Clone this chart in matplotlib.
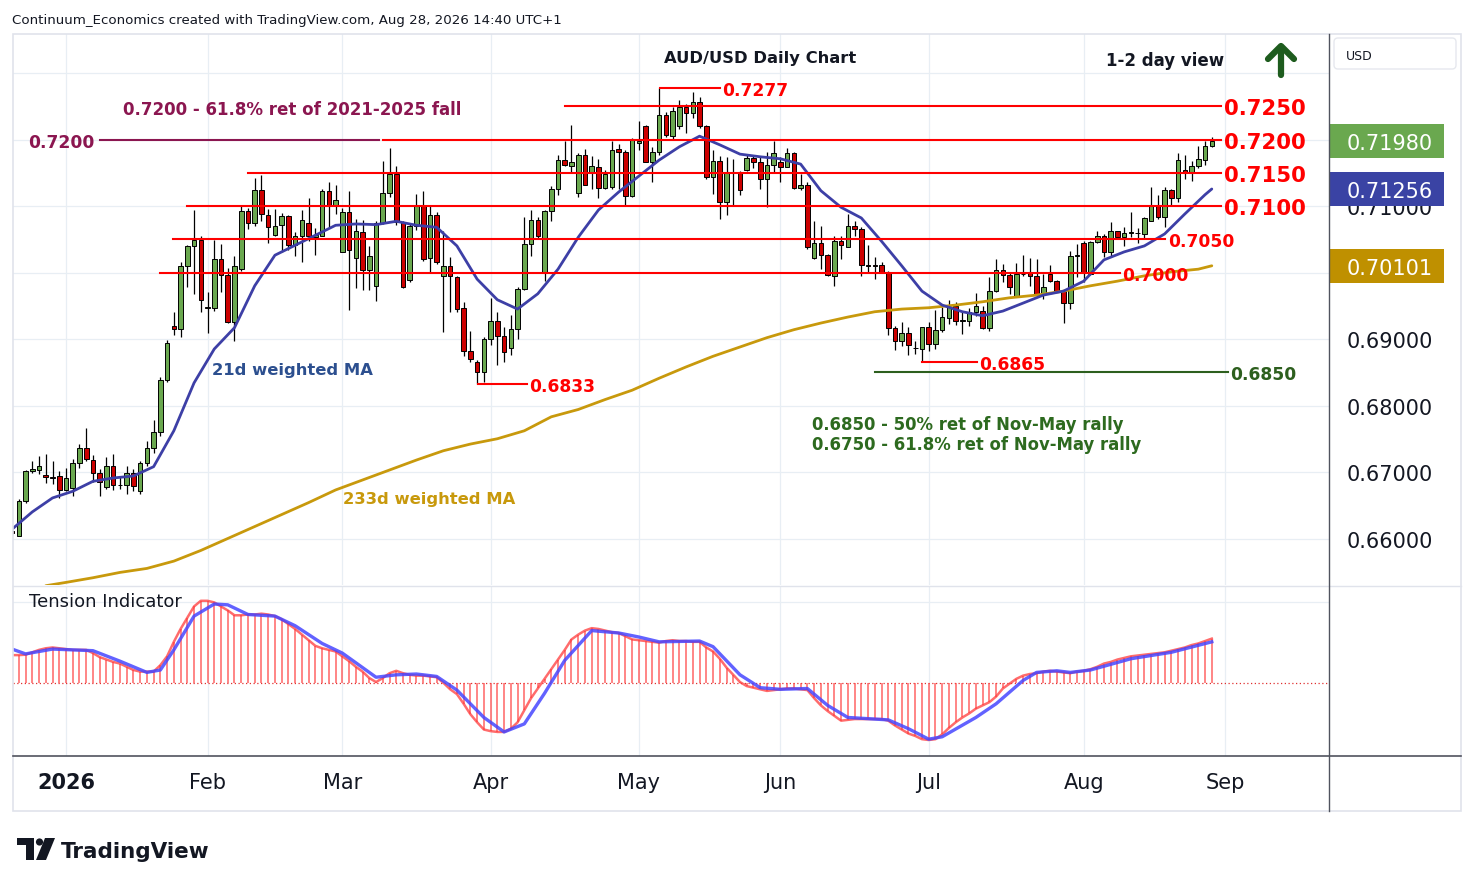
import numpy as np
import pandas as pd
import matplotlib
matplotlib.use("Agg")
import matplotlib.pyplot as plt
from matplotlib.patches import Rectangle, FancyBboxPatch, Polygon, Circle
from matplotlib.lines import Line2D
import matplotlib.transforms as mtransforms

W, H = 1474, 887

# ---------------- data ----------------
holidays = ["2025-12-25", "2026-01-01"]
all_days = pd.bdate_range("2025-12-19", "2026-09-30")
all_days = all_days[~all_days.isin(pd.to_datetime(holidays))]
N = 179
dates = all_days[:N]

opens = [.6612,.6604,.6656,.6701,.6703,.6696,.6692,.6694,.6673,.6676,
         .6714,.6736,.6718,.6698,.6677,.6709,.6680,.6680,.6698,.6671,
         .6714,.6736,.6760,.6838,.6920,.6915,.7010,.7040,.7049,.6946,
         .6947,.7020,.6996,.6926,.7005,.7092,.7074,.7124,.7086,.7056,
         .7071,.7085,.7041,.7055,.7074,.7054,.7055,.7123,.7101,.7031,
         .7091,.7022,.7061,.7004,.6980,.7074,.7120,.7148,.7076,.6989,
         .7070,.7101,.7022,.7086,.6995,.7010,.6993,.6947,.6882,.6865,
         .6850,.6900,.6927,.6905,.6886,.6915,.6975,.7043,.7079,.7000,
         .7092,.7126,.7169,.7160,.7120,.7177,.7150,.7159,.7127,.7129,
         .7186,.7181,.7115,.7195,.7220,.7166,.7181,.7237,.7205,.7220,
         .7249,.7240,.7256,.7220,.7144,.7168,.7106,.7150,.7150,.7154,
         .7172,.7166,.7140,.7162,.7166,.7159,.7180,.7127,.7132,.7022,
         .7044,.7026,.6995,.7047,.7038,.7070,.7065,.7011,.7011,.7011,
         .7000,.6917,.6897,.6909,.6886,.6885,.6918,.6892,.6914,.6932,
         .6950,.6927,.6927,.6941,.6942,.6917,.6972,.7004,.6996,.6965,
         .6997,.6999,.6995,.6968,.6998,.6987,.6972,.6954,.7025,.7044,
         .6998,.7046,.7055,.7031,.7062,.7053,.7060,.7060,.7058,.7077,
         .7101,.7083,.7124,.7112,.7154,.7151,.7160,.7169,.7190]
highs = [.6615,.6659,.6703,.6717,.6724,.6727,.6717,.6702,.6706,.6720,
         .6742,.6766,.6726,.6705,.6723,.6727,.6692,.6709,.6705,.6717,
         .6747,.6778,.6843,.6898,.6941,.7016,.7041,.7094,.7055,.6971,
         .7049,.7043,.7007,.7025,.7100,.7097,.7142,.7147,.7095,.7095,
         .7089,.7087,.7061,.7094,.7112,.7067,.7126,.7136,.7132,.7097,
         .7123,.7080,.7079,.7040,.7077,.7168,.7187,.7160,.7078,.7074,
         .7118,.7123,.7101,.7091,.7062,.7023,.6995,.6956,.6912,.6868,
         .6903,.6962,.6941,.6918,.6936,.6978,.7083,.7094,.7083,.7094,
         .7130,.7177,.7198,.7222,.7180,.7186,.7175,.7171,.7154,.7198,
         .7193,.7184,.7202,.7228,.7222,.7189,.7277,.7241,.7249,.7259,
         .7253,.7271,.7264,.7222,.7184,.7175,.7174,.7170,.7153,.7178,
         .7175,.7174,.7181,.7198,.7174,.7187,.7181,.7148,.7136,.7077,
         .7070,.7028,.7055,.7055,.7088,.7077,.7068,.7041,.7023,.7016,
         .7002,.6920,.6926,.6918,.6897,.6918,.6926,.6944,.6948,.6959,
         .6956,.6941,.6947,.6969,.6950,.6993,.7020,.7013,.7001,.7014,
         .7026,.7022,.7020,.6998,.7011,.6988,.6972,.7032,.7043,.7047,
         .7047,.7062,.7058,.7076,.7063,.7068,.7091,.7067,.7083,.7128,
         .7117,.7129,.7125,.7180,.7177,.7168,.7190,.7198,.7204]
lows = [.6606,.6604,.6654,.6698,.6697,.6683,.6682,.6661,.6671,.6664,
        .6706,.6717,.6685,.6664,.6674,.6673,.6674,.6667,.6671,.6667,
        .6709,.6729,.6754,.6835,.6906,.6903,.6978,.6968,.6941,.6909,
        .6942,.6971,.6924,.6897,.7002,.7065,.7070,.7077,.7044,.7055,
        .7031,.7034,.7025,.7016,.7047,.7026,.7055,.7068,.7088,.7031,
        .6944,.6977,.6974,.6974,.6957,.7073,.7114,.7071,.6976,.6986,
        .7064,.7017,.7001,.7013,.6911,.6941,.6941,.6874,.6865,.6833,
        .6835,.6891,.6861,.6865,.6876,.6900,.6974,.7025,.7050,.6987,
        .7077,.7117,.7160,.7151,.7114,.7131,.7126,.7112,.7126,.7126,
        .7126,.7100,.7114,.7184,.7166,.7136,.7177,.7204,.7201,.7216,
        .7210,.7232,.7217,.7141,.7118,.7080,.7086,.7102,.7117,.7153,
        .7157,.7126,.7098,.7151,.7136,.7159,.7126,.7124,.7036,.7020,
        .7005,.6995,.6980,.7020,.7038,.7055,.6995,.7000,.6990,.7000,
        .6906,.6883,.6890,.6876,.6877,.6865,.6882,.6885,.6911,.6923,
        .6921,.6907,.6920,.6935,.6915,.6912,.6971,.6986,.6968,.6965,
        .6995,.6980,.6966,.6960,.6986,.6970,.6924,.6945,.6993,.6986,
        .6996,.7044,.7023,.7023,.7052,.7040,.7053,.7044,.7052,.7077,
        .7080,.7068,.7101,.7106,.7140,.7138,.7157,.7162,.7188]
closes = [.6608,.6656,.6702,.6705,.6709,.6692,.6691,.6673,.6691,.6714,
          .6736,.6720,.6698,.6685,.6709,.6680,.6681,.6698,.6679,.6714,
          .6736,.6760,.6838,.6894,.6915,.7010,.7040,.7049,.6959,.6948,
          .7020,.6996,.6926,.7010,.7092,.7074,.7124,.7088,.7068,.7070,
          .7085,.7041,.7055,.7079,.7055,.7056,.7123,.7102,.7109,.7091,
          .7034,.7063,.7004,.7025,.7074,.7120,.7148,.7076,.6978,.7070,
          .7101,.7020,.7086,.7016,.7010,.6995,.6945,.6882,.6870,.6850,
          .6900,.6927,.6905,.6880,.6915,.6975,.7043,.7079,.7055,.7092,
          .7126,.7169,.7162,.7166,.7177,.7132,.7160,.7127,.7148,.7184,
          .7181,.7115,.7199,.7197,.7166,.7181,.7237,.7207,.7243,.7249,
          .7240,.7256,.7220,.7144,.7168,.7106,.7150,.7151,.7124,.7172,
          .7166,.7140,.7162,.7180,.7159,.7180,.7127,.7132,.7038,.7044,
          .7026,.6996,.7047,.7041,.7070,.7065,.7011,.7010,.7010,.7000,
          .6917,.6897,.6909,.6891,.6887,.6918,.6892,.6914,.6933,.6948,
          .6927,.6928,.6941,.6950,.6917,.6972,.7004,.6996,.6978,.6998,
          .6998,.6995,.6968,.6978,.6987,.6972,.6954,.7025,.7026,.6999,
          .7046,.7055,.7031,.7062,.7053,.7059,.7061,.7059,.7082,.7101,
          .7083,.7124,.7112,.7169,.7151,.7160,.7171,.7190,.7198]

# 21-day weighted MA (bar index, value)
ma21_idx = list(range(0, 178, 3)) + [178]
ma21_val = [.6614,.6640,.6661,.6671,.6686,.6691,.6694,.6708,.6762,.6834,
            .6885,.6917,.6980,.7026,.7041,.7056,.7071,.7073,.7072,.7077,
            .7071,.7068,.7040,.6990,.6959,.6945,.6968,.7005,.7053,.7094,
            .7121,.7145,.7169,.7189,.7205,.7192,.7178,.7174,.7171,.7163,
            .7123,.7098,.7082,.7047,.7010,.6972,.6951,.6941,.6935,.6942,
            .6954,.6966,.6972,.6987,.7019,.7031,.7040,.7058,.7088,.7117,.71256]
# 233-day weighted MA
ma233_idx = [5, 8] + list(range(12, 177, 4)) + [178]
ma233_val = [.6529,.6534,.6541,.6549,.6555,.6566,.6582,.6600,.6618,.6636,
             .6654,.6673,.6688,.6703,.6718,.6732,.6742,.6750,.6762,.6783,
             .6794,.6809,.6823,.6841,.6858,.6874,.6888,.6902,.6914,.6924,
             .6933,.6941,.6945,.6947,.6951,.6956,.6962,.6966,.6972,.6980,
             .6987,.6995,.7001,.7005,.70101]

# Tension indicator (one value per bar) and its signal line
tension = [.345,.345,.35,.38,.41,.43,.44,.43,.42,.41,
           .41,.41,.37,.32,.29,.26,.24,.20,.16,.14,
           .14,.14,.22,.33,.51,.67,.81,.95,1.02,1.02,
           1.00,.95,.90,.84,.84,.85,.85,.86,.85,.83,
           .79,.73,.67,.60,.53,.46,.43,.41,.39,.33,
           .27,.20,.14,.06,.01,.06,.12,.15,.12,.10,
           .09,.09,.08,.07,.00,-.08,-.14,-.26,-.39,-.49,
           -.58,-.60,-.61,-.61,-.57,-.49,-.34,-.19,-.07,.05,
           .17,.29,.41,.54,.60,.65,.68,.67,.65,.63,
           .62,.58,.54,.53,.52,.51,.50,.52,.53,.52,
           .52,.51,.51,.44,.39,.30,.19,.10,.01,-.04,
           -.06,-.08,-.10,-.09,-.08,-.07,-.07,-.08,-.09,-.19,
           -.28,-.35,-.41,-.47,-.46,-.45,-.45,-.45,-.45,-.45,
           -.47,-.53,-.58,-.63,-.66,-.70,-.71,-.70,-.64,-.56,
           -.49,-.43,-.38,-.32,-.28,-.24,-.17,-.07,-.01,.05,
           .09,.11,.12,.14,.15,.14,.13,.12,.14,.15,
           .17,.20,.24,.26,.29,.31,.33,.34,.35,.36,
           .37,.38,.40,.42,.44,.47,.49,.52,.55]
sig_idx = [0,2,6,12,16,20,22,24,27,30,32,35,39,42,46,49,54,57,60,63,
           66,70,73,76,79,82,86,90,93,96,102,104,108,111,114,118,121,124,130,133,
           136,138,143,146,150,152,155,157,160,166,172,178]
sig_val = [.42,.36,.42,.40,.27,.13,.16,.41,.83,.98,.97,.85,.83,.71,.49,.37,.07,.10,.11,.08,
           -.09,-.43,-.61,-.51,-.13,.28,.65,.62,.57,.51,.52,.45,.10,-.06,-.08,-.07,-.28,-.43,-.46,-.57,
           -.70,-.67,-.43,-.26,.03,.13,.15,.13,.16,.30,.38,.51]

# Support / resistance levels
major_levels = [0.7250, 0.7200, 0.7150, 0.7100]
major_start = [82.0, 55.0, 35.0, 26.0]
major_end = 179.4
minor_levels = [(0.7050, 23.9, 171.1), (0.7000, 21.9, 164.4),
                (0.7277, 96.1, 105.0), (0.6865, 135.0, 143.2), (0.6833, 69.1, 76.4)]
fib_green = (0.6850, 128.0, 180.4)
fib_purple = (0.7200, 13.0, 54.4)

price_ticks = [0.66, 0.67, 0.68, 0.69, 0.71]
last_close = 0.71980
last_ma21 = 0.71256
last_ma233 = 0.70101
month_names = ["2026", "Feb", "Mar", "Apr", "May", "Jun", "Jul", "Aug", "Sep"]

# ---------------- figure ----------------
plt.rcParams['font.family'] = ['DejaVu Sans']
fig = plt.figure(figsize=(W / 100, H / 100), dpi=100)
fig.patch.set_facecolor('white')
PIX = mtransforms.Affine2D().scale(1.0 / W, -1.0 / H).translate(0, 1) + fig.transFigure

def fx(x): return x / W
def fy(y): return 1 - y / H

ax = fig.add_axes([fx(13), fy(586), fx(1329) - fx(13), fy(35) - fy(586)])
ax2 = fig.add_axes([fx(13), fy(757), fx(1329) - fx(13), fy(587) - fy(757)])
for a in (ax, ax2):
    a.set_axis_off()
    a.set_xlim(0.137, 195.39)
ax.set_ylim(0.653008, 0.735865)
ax2.set_ylim(-0.909, 1.204)

grid_c = '#e8eef4'
month_idx = []
for m in range(1, 10):
    month_idx.append(int(np.where((all_days.year == 2026) & (all_days.month == m))[0][0]))
for mi in month_idx:
    ax.axvline(mi, color=grid_c, lw=0.9, zorder=0)
    ax2.axvline(mi, color=grid_c, lw=0.9, zorder=0)
for p in np.arange(0.66, 0.7351, 0.01):
    ax.axhline(p, color=grid_c, lw=0.9, zorder=0)
ax2.axhline(1.0, color=grid_c, lw=0.9, zorder=0)

# candles
xs = np.arange(N)
o, hh, ll, c = map(np.array, (opens, highs, lows, closes))
up = c >= o
cols = np.where(up, '#6aa84f', '#cc0000')
ax.vlines(xs, ll, hh, color='black', lw=0.9, zorder=3)
ax.bar(xs, np.maximum(np.abs(c - o), 0.00003), bottom=np.minimum(o, c), width=0.68,
       color=cols, edgecolor='black', linewidth=0.7, zorder=4)

# moving averages
ax.plot(ma233_idx, ma233_val, color='#c8990c', lw=2.0, zorder=5,
        solid_capstyle='round', solid_joinstyle='round')
ax.plot(ma21_idx, ma21_val, color='#3d3fa6', lw=2.0, zorder=5,
        solid_capstyle='round', solid_joinstyle='round')

# levels
red = '#ff0000'
for p, s in zip(major_levels, major_start):
    ax.plot([s, major_end], [p, p], color=red, lw=1.5, zorder=6)
    ax.text(major_end + 0.35, p, f"{p:.4f}", color=red, fontsize=15.3, fontweight='bold',
            va='center_baseline', ha='left', zorder=7, clip_on=False)
for p, s, e in minor_levels:
    ax.plot([s, e], [p, p], color=red, lw=1.5, zorder=6)
    ax.text(e + 0.35, p, f"{p:.4f}", color=red, fontsize=12.3, fontweight='bold',
            va='center_baseline', ha='left', zorder=7)
gp, gs, ge = fib_green
ax.plot([gs, ge], [gp, gp], color='#2d5f1e', lw=1.5, zorder=6)
ax.text(ge + 0.3, gp, f"{gp:.4f}", color='#2d5f1e', fontsize=12.3, fontweight='bold',
        va='center_baseline', ha='left', zorder=7)
pp, ps, pe = fib_purple
purple = '#8b1650'
ax.plot([ps, pe], [pp, pp], color=purple, lw=1.5, zorder=6)
ax.text(ps - 0.7, pp, f"{pp:.4f}", color=purple, fontsize=12.3, fontweight='bold',
        va='center_baseline', ha='right', zorder=7, clip_on=False)

# annotations
fig.text(fx(123), fy(108), "0.7200 - 61.8% ret of 2021-2025 fall", color=purple,
         fontsize=12, fontweight='bold', va='center_baseline', ha='left')
fig.text(fx(760), fy(57), "AUD/USD Daily Chart", color='#131722', fontsize=11.8,
         fontweight='bold', va='center_baseline', ha='center')
fig.text(fx(1106), fy(59), "1-2 day view", color='#131722', fontsize=12,
         fontweight='bold', va='center_baseline', ha='left')
fig.text(fx(212), fy(369), "21d weighted MA", color='#2c4f8f', fontsize=11.8,
         fontweight='bold', va='center_baseline', ha='left')
fig.text(fx(343), fy(498), "233d weighted MA", color='#c8990c', fontsize=11.8,
         fontweight='bold', va='center_baseline', ha='left')
fig.text(fx(812), fy(423), "0.6850 - 50% ret of Nov-May rally", color='#2d6a1f',
         fontsize=11.9, fontweight='bold', va='center_baseline', ha='left')
fig.text(fx(812), fy(443), "0.6750 - 61.8% ret of Nov-May rally", color='#2d6a1f',
         fontsize=11.9, fontweight='bold', va='center_baseline', ha='left')
fig.text(fx(29), fy(600), "Tension Indicator", color='#131722', fontsize=13,
         va='center_baseline', ha='left')
fig.text(fx(12), fy(19), "Continuum_Economics created with TradingView.com, Aug 28, 2026 14:40 UTC+1",
         color='#131722', fontsize=9.6, va='center_baseline', ha='left')

# up arrow
arrow_c = '#1e5c1e'
fig.add_artist(Line2D([1281, 1281], [76, 49], transform=PIX, color=arrow_c, lw=4.5,
                      solid_capstyle='round'))
fig.add_artist(Line2D([1268, 1281, 1294], [60, 47, 60], transform=PIX, color=arrow_c, lw=4.5,
                      solid_capstyle='round', solid_joinstyle='round'))

# indicator
ax2.vlines(xs, 0, tension, color='#ff4a4a', lw=1.1, alpha=0.85, zorder=2)
ax2.plot(xs, tension, color='#ff3b3b', lw=1.8, alpha=0.75, zorder=3)
ax2.plot(sig_idx, sig_val, color='#4646ff', lw=2.4, alpha=0.85, zorder=4,
         solid_joinstyle='round')
ax2.axhline(0, color='#e03030', lw=0.9, ls=(0, (1, 2)), zorder=1)

# price scale
ytr = ax.get_yaxis_transform()
for p in price_ticks:
    ax.text(1.0137, p, f"{p:.5f}", transform=ytr, color='#131722', fontsize=15,
            va='center_baseline', ha='left', clip_on=False)
box_h = 0.00256
for val, colr in [(last_ma233, '#bf9000'), (last_ma21, '#3a43a4'), (last_close, '#6aa84f')]:
    ax.add_patch(Rectangle((1.0, val - box_h), 0.0874, 2 * box_h, transform=ytr,
                           facecolor=colr, edgecolor='none', clip_on=False, zorder=10))
    ax.text(1.0137, val, f"{val:.5f}", transform=ytr, color='white', fontsize=15,
            va='center_baseline', ha='left', clip_on=False, zorder=11)

# time axis labels
ttr = mtransforms.blended_transform_factory(ax2.transData, fig.transFigure)
for mi, name in zip(month_idx, month_names):
    fig.text(mi, fy(781), name, transform=ttr, color='#131722', fontsize=15,
             fontweight='bold' if name == '2026' else 'normal', va='center_baseline', ha='center')

# frame
light = '#e0e3eb'
dark = '#50535e'
fig.add_artist(Rectangle((13, 35), 1448, 777, transform=PIX, fill=False, edgecolor=light, lw=1.2))
fig.add_artist(Line2D([13, 1461], [586.5, 586.5], transform=PIX, color=light, lw=1.0))
fig.add_artist(Line2D([1329, 1329], [35, 812], transform=PIX, color=dark, lw=1.0))
fig.add_artist(Line2D([13, 1461], [757, 757], transform=PIX, color=dark, lw=1.2))
fig.add_artist(FancyBboxPatch((1334, 39), 122, 31, boxstyle="round,pad=0,rounding_size=4",
                              transform=PIX, facecolor='white', edgecolor='#e6e8ee', lw=1.0))
fig.text(fx(1346), fy(55), "USD", color='#131722', fontsize=9, va='center_baseline', ha='left')

# TradingView logo
logo_c = '#131722'
fig.add_artist(Polygon([(17, 839), (34, 839), (34, 861), (26, 861), (26, 846), (17, 846)],
                       closed=True, transform=PIX, facecolor=logo_c, edgecolor='none'))
fig.add_artist(Circle((39.5, 843), 3.6, transform=PIX, facecolor=logo_c, edgecolor='none'))
fig.add_artist(Polygon([(45, 839), (55, 839), (46, 861), (36, 861)], closed=True,
                       transform=PIX, facecolor=logo_c, edgecolor='none'))
fig.text(fx(61), fy(850), "TradingView", color=logo_c, fontsize=15.5, fontweight='bold',
         va='center_baseline', ha='left')

fig.savefig("out.png", dpi=100, facecolor='white')
